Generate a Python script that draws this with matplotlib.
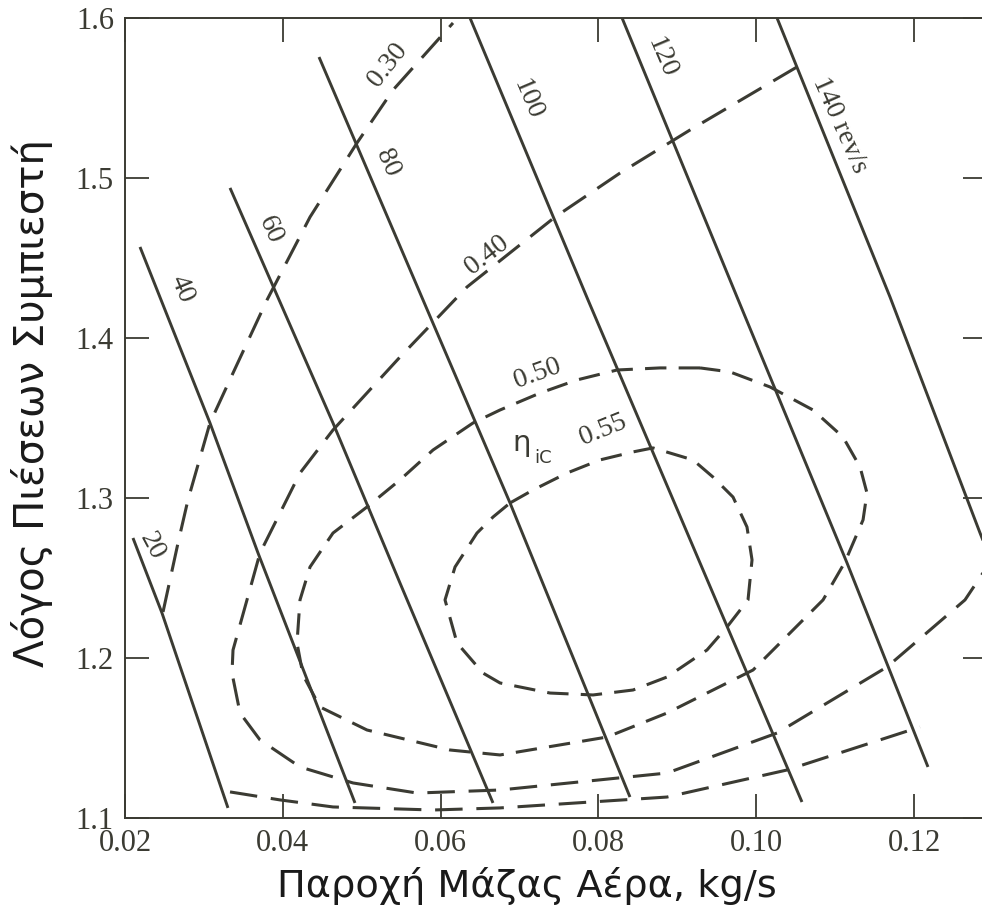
import matplotlib
matplotlib.use("Agg")
import matplotlib.pyplot as plt
import numpy as np

# ---------------- data ----------------
speed_labels = ["20", "40", "60", "80", "100", "120", "140 rev/s"]

n20_x = [0.02101, 0.02469, 0.03305]
n20_y = [1.2750, 1.2281, 1.1063]
n40_x = [0.02190, 0.03077, 0.03686, 0.04915]
n40_y = [1.4569, 1.3469, 1.2656, 1.1094]
n60_x = [0.03331, 0.04636, 0.05485, 0.06664]
n60_y = [1.4938, 1.3469, 1.2469, 1.1094]
n80_x = [0.04459, 0.05777, 0.06880, 0.08400]
n80_y = [1.5756, 1.4238, 1.2969, 1.1131]
n100_x = [0.06373, 0.07868, 0.09288, 0.10580]
n100_y = [1.6000, 1.4238, 1.2594, 1.1100]
n120_x = [0.08300, 0.09757, 0.11151, 0.12177]
n120_y = [1.6000, 1.4256, 1.2594, 1.1319]
n140_x = [0.10264, 0.11696, 0.12837, 0.12963]
n140_y = [1.6000, 1.4256, 1.2781, 1.2625]

eff030a_x = [0.02482, 0.02672, 0.02798, 0.03077, 0.03369, 0.03800, 0.04345,
             0.04940, 0.05397, 0.06157]
eff030a_y = [1.2288, 1.2719, 1.2988, 1.3469, 1.3781, 1.4238, 1.4756,
             1.5219, 1.5550, 1.5969]
eff030b_x = [0.03331, 0.03965, 0.04636, 0.05904, 0.06753, 0.08869, 0.10390, 0.12076]
eff030b_y = [1.1163, 1.1113, 1.1069, 1.1050, 1.1063, 1.1131, 1.1300, 1.1569]

eff040_x = [0.10517, 0.09161, 0.08274, 0.07450, 0.06335, 0.05485, 0.04636,
            0.04218, 0.03711, 0.03546, 0.03369, 0.03356, 0.03458, 0.03711,
            0.04218, 0.04890, 0.05701, 0.06753, 0.08869, 0.10264, 0.11658,
            0.12646, 0.12925]
eff040_y = [1.5694, 1.5300, 1.5031, 1.4756, 1.4319, 1.3881, 1.3425,
            1.3156, 1.2656, 1.2363, 1.2050, 1.1906, 1.1656, 1.1488,
            1.1319, 1.1219, 1.1156, 1.1175, 1.1281, 1.1531, 1.1944,
            1.2363, 1.2569]

eff050_x = [0.09288, 0.08781, 0.08236, 0.07729, 0.07260, 0.06753, 0.06411,
            0.05904, 0.05485, 0.05067, 0.04636, 0.04345, 0.04218, 0.04180,
            0.04256, 0.04471, 0.05067, 0.06119, 0.06753, 0.08109, 0.08869,
            0.09960, 0.10847, 0.11125, 0.11354, 0.11404, 0.11316, 0.11100,
            0.10720, 0.10175, 0.09668, 0.09288]
eff050_y = [1.3813, 1.3813, 1.3800, 1.3738, 1.3656, 1.3550, 1.3469,
            1.3300, 1.3113, 1.2944, 1.2781, 1.2569, 1.2363, 1.2094,
            1.1894, 1.1694, 1.1550, 1.1425, 1.1394, 1.1506, 1.1656,
            1.1925, 1.2363, 1.2600, 1.2863, 1.3031, 1.3194, 1.3381,
            1.3550, 1.3694, 1.3788, 1.3813]

eff055_x = [0.06880, 0.07171, 0.07602, 0.08020, 0.08439, 0.08692, 0.09199,
            0.09452, 0.09706, 0.09883, 0.09947, 0.09896, 0.09630, 0.09376,
            0.08869, 0.08439, 0.07932, 0.07387, 0.06753, 0.06537, 0.06208,
            0.06056, 0.06183, 0.06461, 0.06664, 0.06880]
eff055_y = [1.2969, 1.3050, 1.3156, 1.3238, 1.3288, 1.3313, 1.3238,
            1.3131, 1.3006, 1.2819, 1.2613, 1.2363, 1.2194, 1.2050,
            1.1881, 1.1800, 1.1769, 1.1781, 1.1844, 1.1906, 1.2094,
            1.2363, 1.2569, 1.2781, 1.2881, 1.2969]

x_ticks = [0.02, 0.04, 0.06, 0.08, 0.10, 0.12]
x_ticklabels = ["0.02", "0.04", "0.06", "0.08", "0.10", "0.12"]
y_ticks = [1.1, 1.2, 1.3, 1.4, 1.5, 1.6]
y_ticklabels = ["1.1", "1.2", "1.3", "1.4", "1.5", "1.6"]

# label positions (data coords) and rotations
speed_label_pos = [(0.02342, 1.2700, -62), (0.02722, 1.4306, -67),
                   (0.03838, 1.4675, -66), (0.05321, 1.5094, -66),
                   (0.07108, 1.5488, -67), (0.08806, 1.5750, -67),
                   (0.11062, 1.5331, -66)]
eff_labels = ["0.30", "0.40", "0.50", "0.55"]
eff_label_pos = [(0.05333, 1.5706, 52), (0.06588, 1.4519, 38),
                 (0.07222, 1.3775, 20), (0.08058, 1.3425, 22)]

# ---------------- drawing ----------------
INK = "#3b3b33"
W, H = 982, 906
fig = plt.figure(figsize=(W / 100, H / 100), dpi=100)
fig.patch.set_facecolor("white")
ax = fig.add_axes([125 / W, 88 / H, (987 - 125) / W, 800 / H])
ax.set_xlim(0.02, 0.12925)
ax.set_ylim(1.1, 1.6)

solid_kw = dict(color=INK, lw=2.1, solid_capstyle="butt", solid_joinstyle="round")
for xs, ys in [(n20_x, n20_y), (n40_x, n40_y), (n60_x, n60_y), (n80_x, n80_y),
               (n100_x, n100_y), (n120_x, n120_y), (n140_x, n140_y)]:
    ax.plot(xs, ys, **solid_kw)

dash_long = dict(color=INK, lw=2.2, linestyle=(0, (9, 4.5)), dash_capstyle="butt",
                 dash_joinstyle="round")
dash_short = dict(color=INK, lw=2.2, linestyle=(0, (7, 4)), dash_capstyle="butt",
                  dash_joinstyle="round")
ax.plot(eff030a_x, eff030a_y, **dash_long)
ax.plot(eff030b_x, eff030b_y, **dash_long)
ax.plot(eff040_x, eff040_y, **dash_long)
ax.plot(eff050_x, eff050_y, **dash_short)
ax.plot(eff055_x, eff055_y, **dash_short)

serif = ["Liberation Serif", "DejaVu Serif"]
for lab, (x, y, r) in zip(speed_labels, speed_label_pos):
    ax.text(x, y, lab, rotation=r, rotation_mode="anchor", ha="center", va="center",
            fontsize=20, family=serif, color=INK)
for lab, (x, y, r) in zip(eff_labels, eff_label_pos):
    ax.text(x, y, lab, rotation=r, rotation_mode="anchor", ha="center", va="center",
            fontsize=20, family=serif, color=INK)
ax.text(0.0703, 1.3345, "η", ha="center", va="center", fontsize=21,
        family="DejaVu Sans", color=INK)
ax.text(0.0719, 1.3250, "iC", ha="left", va="center", fontsize=13,
        family="DejaVu Sans", color=INK)

ax.set_xticks(x_ticks)
ax.set_xticklabels(x_ticklabels)
ax.set_yticks(y_ticks)
ax.set_yticklabels(y_ticklabels)
ax.tick_params(which="major", direction="in", length=17, width=1.3, color=INK,
               top=True, right=True, labelsize=22, labelcolor=INK, pad=8)
for lab in ax.get_xticklabels() + ax.get_yticklabels():
    lab.set_family(serif)
for sp in ax.spines.values():
    sp.set_color(INK)
    sp.set_linewidth(1.4)

fig.text(527 / W, 1 - 897 / H, "Παροχή Μάζας Αέρα, kg/s", ha="center", va="baseline",
         fontsize=27.5, family="DejaVu Sans", color="#1a1a1a")
fig.text(32 / W, 1 - 403 / H, "Λόγος Πιέσεων Συμπιεστή", ha="center", va="center",
         rotation=90, fontsize=29, family="DejaVu Sans", color="#1a1a1a")

fig.savefig("out.png", dpi=100)
